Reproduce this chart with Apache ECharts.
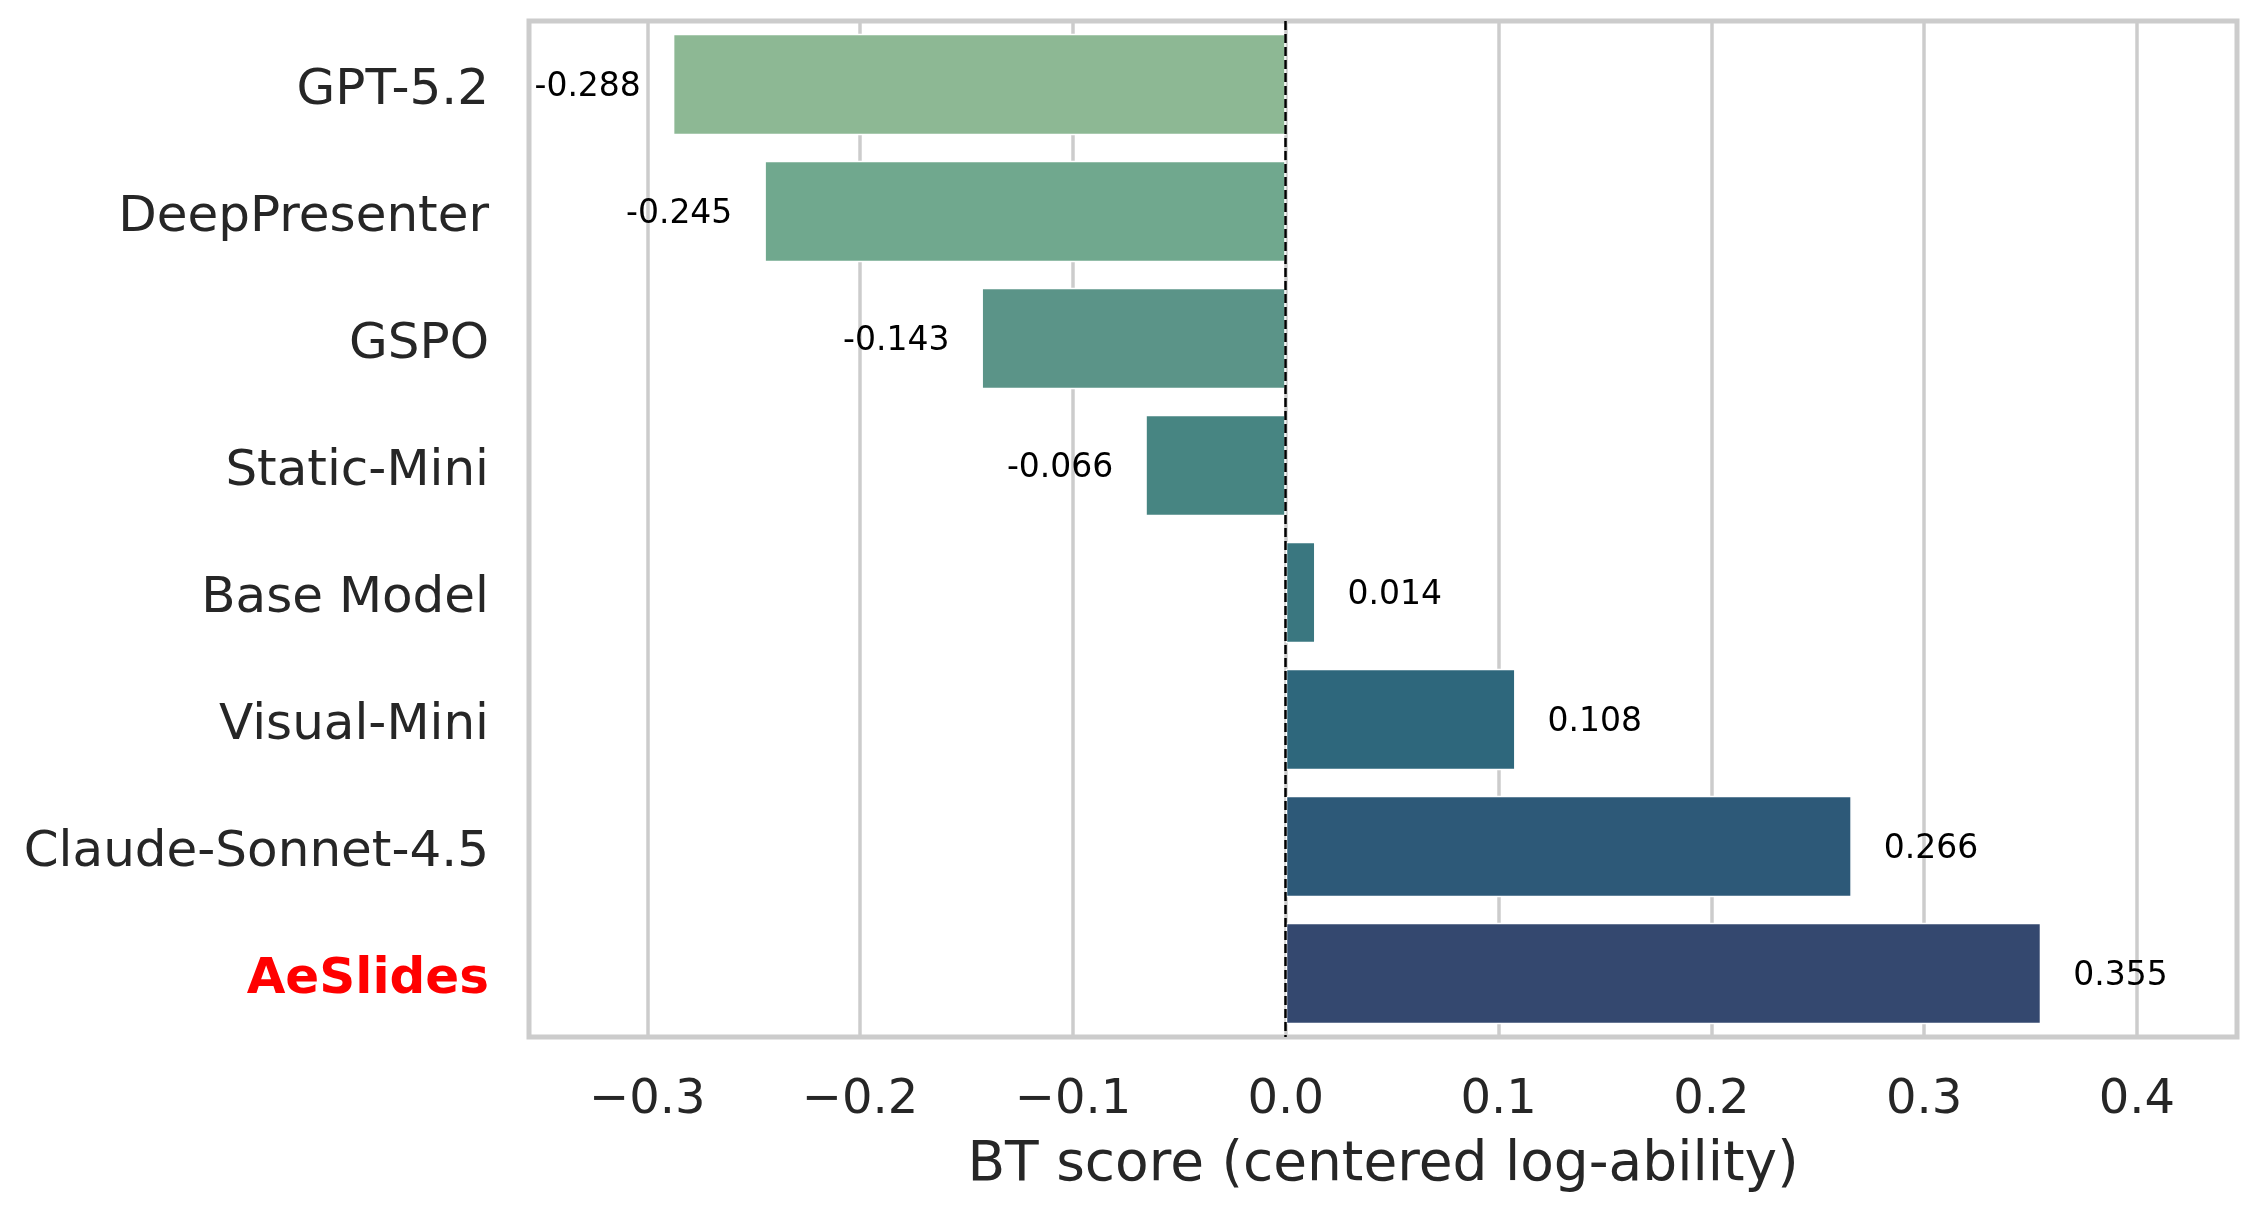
<!DOCTYPE html>
<html>
<head>
<meta charset="utf-8">
<script src="https://cdn.jsdelivr.net/npm/echarts@6/dist/echarts.min.js"></script>
<style>
  html, body { margin: 0; padding: 0; background: #fff; }
  #btChart { width: 2256px; height: 1212px; }
</style>
</head>
<body>
<div id="btChart"></div>
<script>
const models = ['GPT-5.2', 'DeepPresenter', 'GSPO', 'Static-Mini', 'Base Model', 'Visual-Mini', 'Claude-Sonnet-4.5', 'AeSlides'];
const btScores = [-0.288, -0.245, -0.143, -0.066, 0.014, 0.108, 0.266, 0.355];
const barColors = ['#8db894', '#70a88e', '#5b9488', '#478582', '#3a7780', '#2e677c', '#2d5978', '#34486f'];
const highlight = 'AeSlides';

const font = 'DejaVu Sans';

const chart = echarts.init(document.querySelector('#btChart'));
chart.setOption({
  animation: false,
  backgroundColor: '#fff',
  grid: {
    left: 529, right: 19, top: 21, bottom: 175,
    outerBoundsMode: 'none',
    containLabel: false,
    show: true, borderColor: '#cccccc', borderWidth: 5, backgroundColor: 'transparent'
  },
  xAxis: {
    type: 'value',
    min: -0.3556,
    max: 0.447,
    splitNumber: 8,
    minInterval: 0.1,
    maxInterval: 0.1,
    axisLine: { show: false },
    axisTick: { show: false },
    splitLine: { show: true, lineStyle: { color: '#cccccc', width: 3.5 } },
    axisLabel: {
      fontFamily: font, fontSize: 48, color: '#262626', margin: 40,
      formatter: v => {
        if (Math.abs(v * 10 - Math.round(v * 10)) > 1e-6) return '';
        return v.toFixed(1).replace('-', '\u2212');
      }
    },
    name: 'BT score (centered log-ability)',
    nameLocation: 'middle',
    nameGap: 101,
    nameTextStyle: { fontFamily: font, fontSize: 55, color: '#262626' }
  },
  yAxis: {
    type: 'category',
    inverse: true,
    data: models,
    axisLine: { show: false },
    axisTick: { show: false },
    splitLine: { show: false },
    axisLabel: {
      margin: 40,
      formatter: v => (v === highlight ? '{h|' : '{n|') + v + '}',
      rich: {
        n: { fontFamily: font, fontSize: 50, color: '#262626', padding: [14, 0, 0, 0] },
        h: { fontFamily: font, fontSize: 50, color: '#ff0000', fontWeight: 'bold', padding: [14, 0, 0, 0] }
      }
    }
  },
  series: [{
    type: 'bar',
    barWidth: '80%',
    data: btScores.map((v, i) => ({
      value: v,
      itemStyle: { color: barColors[i], borderColor: '#ffffff', borderWidth: 1.5 },
      label: { position: v < 0 ? 'left' : 'right' }
    })),
    label: {
      show: true,
      distance: 32,
      formatter: p => '{v|' + p.value.toFixed(3) + '}',
      rich: {
        v: { fontFamily: font, fontSize: 33, color: '#000', padding: [6, 0, 0, 0] }
      }
    },
    markLine: {
      silent: true,
      symbol: 'none',
      label: { show: false },
      lineStyle: { color: '#000', type: [9, 4], width: 2.5 },
      data: [{ xAxis: 0 }]
    }
  }]
});
</script>
</body>
</html>
